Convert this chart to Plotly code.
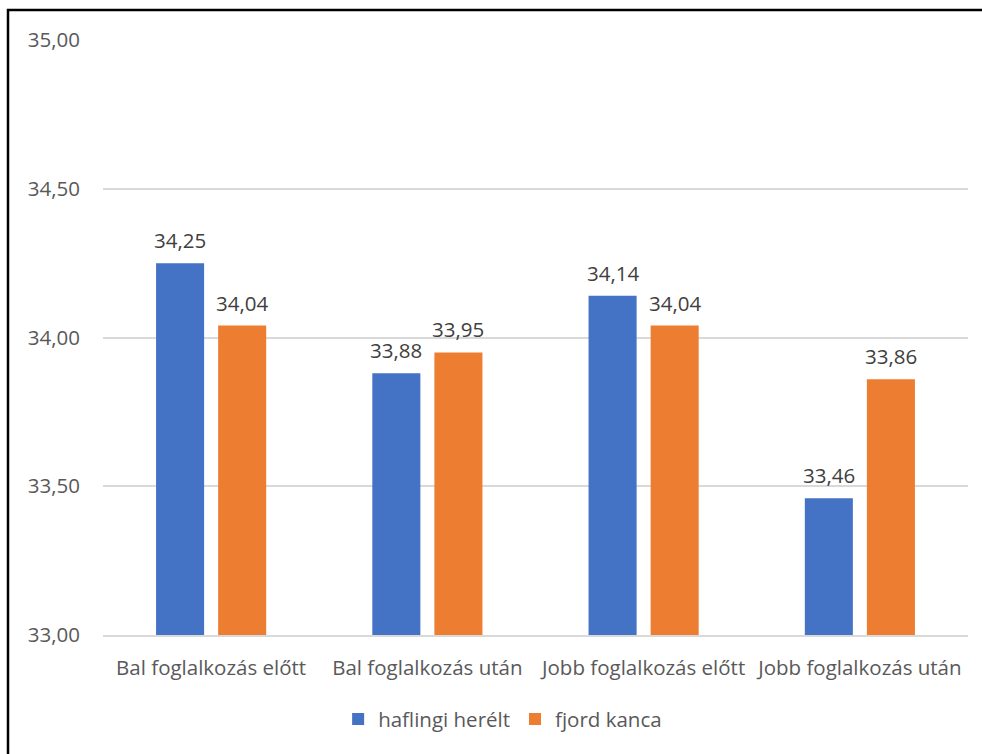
import plotly.graph_objects as go

categories = ["Bal foglalkozás előtt", "Bal foglalkozás után",
              "Jobb foglalkozás előtt", "Jobb foglalkozás után"]
haflingi = [34.25, 33.88, 34.14, 33.46]
fjord = [34.04, 33.95, 34.04, 33.86]
series_names = ["haflingi herélt", "fjord kanca"]
y_ticks = [33.0, 33.5, 34.0, 34.5, 35.0]

FONT = "Open Sans"
TEXT = "#595959"
SIZE = 20.5

fig = go.Figure()
series = [(series_names[0], haflingi, "#4472C4", -31),
          (series_names[1], fjord, "#ED7D31", 31)]
for name, vals, color, _ in series:
    fig.add_trace(go.Bar(
        x=categories, y=vals, name=name,
        marker=dict(color=color, line=dict(width=0)),
    ))

# value labels above each bar
for name, vals, color, dx in series:
    for cat, v in zip(categories, vals):
        fig.add_annotation(x=cat, y=v, xref="x", yref="y",
                           text=f"{v:.2f}".replace(".", ","),
                           showarrow=False, xshift=dx, yshift=23,
                           yanchor="middle",
                           font=dict(family=FONT, size=SIZE, color="#404040"))

fig.update_layout(
    width=982, height=754,
    margin=dict(l=103, r=14, t=40, b=119),
    paper_bgcolor="white", plot_bgcolor="white",
    separators=", ",
    barmode="group", bargap=0.426, bargroupgap=0.226,
    font=dict(family=FONT, size=SIZE, color=TEXT),
    legend=dict(orientation="h", x=0.462, xanchor="center", y=-0.108, yanchor="top",
                font=dict(family=FONT, size=SIZE, color=TEXT),
                itemwidth=30, traceorder="normal"),
    showlegend=True,
)
fig.update_yaxes(range=[33.0, 35.0], tickvals=y_ticks, tickformat=".2f",
                 showgrid=True, gridcolor="#D9D9D9", gridwidth=1.5,
                 zeroline=False, showline=False,
                 ticklabelstandoff=22, tickfont=dict(size=SIZE, color=TEXT))
fig.update_xaxes(showline=True, linecolor="#D9D9D9", linewidth=1.5,
                 ticks="", ticklabelstandoff=14,
                 tickfont=dict(size=SIZE, color=TEXT))

# outer frame of the chart area
fig.add_shape(type="rect", xref="paper", yref="paper",
              x0=(8 - 103) / 865, x1=1.05, y0=-0.25, y1=(635 - 10) / 595,
              line=dict(color="black", width=2.5), fillcolor="rgba(0,0,0,0)",
              layer="above")

fig.write_html("out.html")
